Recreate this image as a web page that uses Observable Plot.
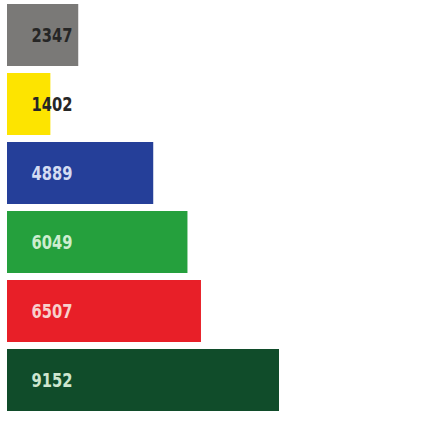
<!DOCTYPE html>
<html>
<head>
<meta charset="utf-8">
<script src="https://cdn.jsdelivr.net/npm/d3@7"></script>
<script src="https://cdn.jsdelivr.net/npm/@observablehq/plot@0.6"></script>
<style>
  html, body { margin: 0; padding: 0; background: #fff; }
  #chart svg { display: block; }
</style>
</head>
<body>
<div id="chart"></div>
<script>
const categories = ["A", "B", "C", "D", "E", "F"];
const values = [2347, 1402, 4889, 6049, 6507, 9152];
const labels = ["2347", "1402", "4889", "6049", "6507", "9152"];

const barColors = ["#7a7977", "#fde400", "#253f99", "#25a03d", "#e81f28", "#104c2a"];
const labelColors = ["#262626", "#262626", "#d4dcf2", "#cdeecf", "#f8d0cc", "#cde6cf"];

const data = categories.map((c, i) => ({ cat: c, value: values[i], label: labels[i] }));

const chart = Plot.plot({
  width: 422,
  height: 421,
  margin: 0,
  x: { domain: [0, 9152], range: [9, 279], axis: null },
  y: { domain: categories, range: [3, 413], paddingInner: 0.1, paddingOuter: 0, axis: null },
  color: { domain: categories, range: barColors },
  style: { background: "#fff" },
  marks: [
    Plot.barX(data, { x: "value", y: "cat", fill: "cat", insetLeft: -2 }),
    Plot.text(data, {
      x: 0, y: "cat", text: "label",
      dx: 22, textAnchor: "start",
      fill: (d) => labelColors[categories.indexOf(d.cat)],
      fontFamily: "DejaVu Sans Condensed, sans-serif",
      fontWeight: "bold",
      fontSize: 20
    })
  ]
});
// condense labels to match the narrow typeface of the original
d3.select(chart).selectAll("text")
  .attr("textLength", 41)
  .attr("lengthAdjust", "spacingAndGlyphs");
document.getElementById("chart").appendChild(chart);
</script>
</body>
</html>
